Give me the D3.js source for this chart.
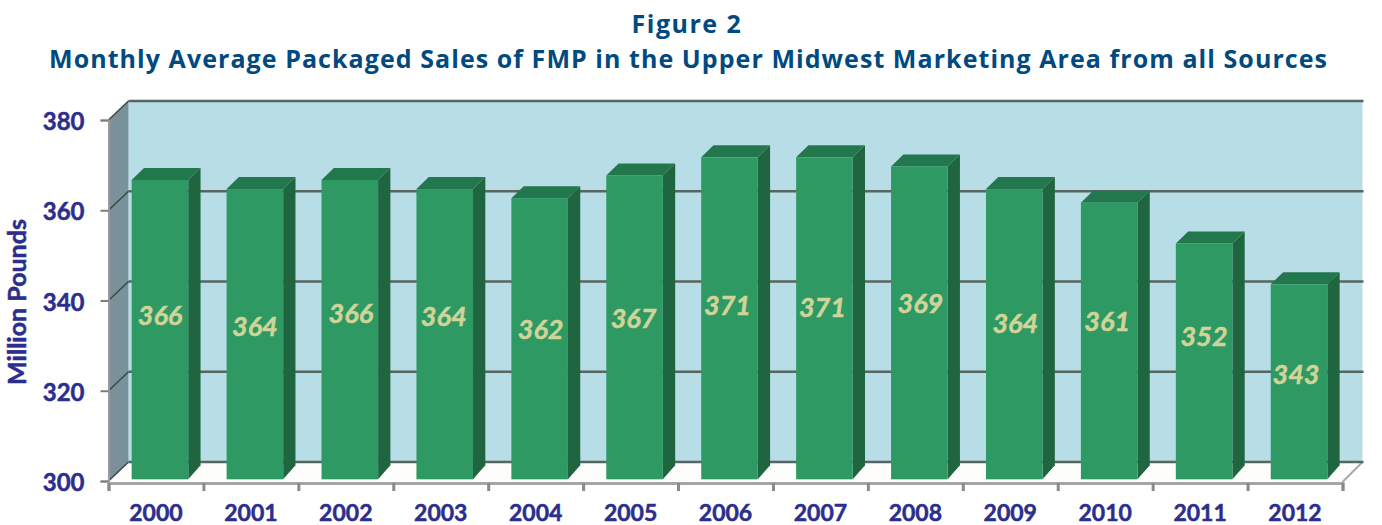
<!DOCTYPE html>
<html>
<head>
<meta charset="utf-8">
<script src="https://cdn.jsdelivr.net/npm/d3@7"></script>
<style>
  html, body { margin: 0; padding: 0; background: #fff; overflow: hidden; }
  svg { display: block; }
</style>
</head>
<body>
<div class="chart"></div>
<script>
// values
const years = ["2000", "2001", "2002", "2003", "2004", "2005", "2006", "2007", "2008", "2009", "2010", "2011", "2012"];
const sales = [366, 364, 366, 364, 362, 367, 371, 371, 369, 364, 361, 352, 343];
const yTicks = [300, 320, 340, 360, 380];
const titleLines = ["Figure 2", "Monthly Average Packaged Sales of FMP in the Upper Midwest Marketing Area from all Sources"];
const yLabel = "Million Pounds";

// the data labels were hand placed in the original, nudges from the middle of each bar
const labelLift = [14, 8, 16, 18, 9, 9, 13, 11, 20, 11, 20, 25, 8];
const labelShift = [0, 0, 1, -1, 1, -1, -2, -2, 1, 1, -2, 0, -3];

const svgWidth = 1382;
const svgHeight = 525;
const wallDx = 20, wallDy = -19;
const barDx = 12.3, barDy = -12;

const svg = d3.select(".chart").append("svg")
  .attr("width", svgWidth)
  .attr("height", svgHeight);

// scales, front plane of the box
const xBand = d3.scaleBand().domain(years).range([108.5, 1342.5]).paddingInner(0.404).paddingOuter(0.202);
const xTickScale = d3.scaleLinear().domain([0, years.length]).range([108.5, 1342.5]);
const yScale = d3.scaleLinear().domain([300, 380]).range([481, 120]);
// bars stand a little further in than the front plane
const yBar = d3.scaleLinear().domain([300, 380]).range([479.3, 116.5]);

const defs = svg.append("defs");
const wallGrad = defs.append("linearGradient").attr("id", "leftWall")
  .attr("x1", 0).attr("x2", 1).attr("y1", 0).attr("y2", 0);
wallGrad.append("stop").attr("offset", "0%").attr("stop-color", "#7f8f98");
wallGrad.append("stop").attr("offset", "100%").attr("stop-color", "#76939c");

const x0 = xTickScale(0), x1 = xTickScale(years.length);
const yLow = yScale(300), yHigh = yScale(380);
const pts = a => a.map(p => p.join(",")).join(" ");

// back wall
svg.append("rect")
  .attr("x", x0 + wallDx).attr("y", yHigh + wallDy)
  .attr("width", x1 - x0).attr("height", yLow - yHigh)
  .attr("fill", "#b7dde6");

// left wall
svg.append("polygon")
  .attr("points", pts([[x0, yHigh], [x0 + wallDx, yHigh + wallDy], [x0 + wallDx, yLow + wallDy], [x0, yLow]]))
  .attr("fill", "url(#leftWall)");

// floor
svg.append("polygon")
  .attr("points", pts([[x0, yLow], [x0 + wallDx, yLow + wallDy], [x1 + wallDx, yLow + wallDy], [x1, yLow]]))
  .attr("fill", "#fdfdfb");
svg.append("line")
  .attr("x1", x1).attr("y1", yLow + 1).attr("x2", x1 + wallDx).attr("y2", yLow + wallDy)
  .attr("stroke", "#a8a8a8").attr("stroke-width", 2);

// gridlines on the wall and their diagonals
const grid = svg.append("g");
grid.selectAll("line.back").data(yTicks).enter().append("line")
  .attr("class", "back")
  .attr("x1", x0 + wallDx).attr("x2", x1 + wallDx + 1)
  .attr("y1", d => yScale(d) + wallDy).attr("y2", d => yScale(d) + wallDy)
  .attr("stroke", "#57665f").attr("stroke-width", 2.4);
grid.selectAll("line.diag").data(yTicks).enter().append("line")
  .attr("class", "diag")
  .attr("x1", x0).attr("x2", x0 + wallDx)
  .attr("y1", d => yScale(d)).attr("y2", d => yScale(d) + wallDy)
  .attr("stroke", "#3f4a48").attr("stroke-width", 1.6);

// bars, side then top then front
const bars = svg.append("g").selectAll("g").data(years).enter().append("g");
const barLeft = d => xBand(d) + 4;
const barTop = (d, i) => yBar(sales[i]);
const barBase = yBar(300);

bars.append("polygon")
  .attr("fill", "#1f6640")
  .attr("points", (d, i) => {
    const r = barLeft(d) + xBand.bandwidth();
    return pts([[r, barTop(d, i)], [r + barDx, barTop(d, i) + barDy], [r + barDx, barBase - 14], [r, barBase]]);
  });
bars.append("polygon")
  .attr("fill", "#23774c")
  .attr("points", (d, i) => {
    const l = barLeft(d), r = l + xBand.bandwidth();
    return pts([[l, barTop(d, i)], [l + barDx, barTop(d, i) + barDy], [r + barDx, barTop(d, i) + barDy], [r, barTop(d, i)]]);
  });
bars.append("rect")
  .attr("fill", "#2e9963")
  .attr("x", barLeft)
  .attr("y", barTop)
  .attr("width", xBand.bandwidth())
  .attr("height", (d, i) => barBase - barTop(d, i));

// data labels
bars.append("text")
  .attr("x", (d, i) => barLeft(d) + xBand.bandwidth() / 2 + labelShift[i])
  .attr("y", (d, i) => (barTop(d, i) + barBase) / 2 - labelLift[i])
  .attr("dy", "0.36em")
  .attr("text-anchor", "middle")
  .attr("font-family", "Lato")
  .attr("font-weight", "bold")
  .attr("font-style", "italic")
  .attr("font-size", 27)
  .attr("stroke", "#d0d498")
  .attr("stroke-width", 0.5)
  .attr("fill", "#d0d498")
  .text((d, i) => sales[i]);

// y axis
const yAxis = d3.axisLeft(yScale).tickValues(yTicks).tickSize(8).tickPadding(16).tickFormat(d3.format("d"));
const yG = svg.append("g").attr("transform", `translate(${x0},0)`).call(yAxis);
yG.select(".domain").attr("stroke", "#9a9a9a").attr("stroke-width", 2);
yG.selectAll(".tick line").attr("stroke", "#7d7d7d").attr("stroke-width", 2);
yG.selectAll(".tick text")
  .attr("dy", "0.4em")
  .attr("font-family", "Lato").attr("font-weight", "bold").attr("font-size", 24).attr("fill", "#2b2e8c")
  .attr("stroke", "#2b2e8c").attr("stroke-width", 0.5);

// x axis, ticks sit between the categories so it needs two axes
const xTicks = d3.axisBottom(xTickScale).ticks(years.length).tickSize(8).tickFormat("");
const xG = svg.append("g").attr("transform", `translate(0,${yLow + 2})`).call(xTicks);
xG.select(".domain").attr("stroke", "#a5a5a5").attr("stroke-width", 3);
xG.selectAll(".tick line").attr("stroke", "#8a8a8a").attr("stroke-width", 3);

const xLabels = d3.axisBottom(xBand).tickSize(0).tickPadding(22);
const xL = svg.append("g").attr("transform", `translate(0,${yLow + 2})`).call(xLabels);
xL.select(".domain").remove();
xL.selectAll(".tick text")
  .attr("font-family", "Lato").attr("font-weight", "bold").attr("font-size", 23).attr("fill", "#2b2e8c")
  .attr("stroke", "#2b2e8c").attr("stroke-width", 0.5);

// y axis title
svg.append("text")
  .attr("transform", "translate(26,302) rotate(-90)")
  .attr("text-anchor", "middle")
  .attr("font-family", "Lato").attr("font-weight", "bold").attr("font-size", 25)
  .attr("fill", "#2b2e8c")
  .attr("stroke", "#2b2e8c").attr("stroke-width", 0.5)
  .text(yLabel);

// title
svg.append("text")
  .attr("x", 687).attr("y", 33)
  .attr("text-anchor", "middle")
  .attr("font-family", "Open Sans").attr("font-weight", "bold").attr("font-size", 25)
  .attr("letter-spacing", 1.5)
  .attr("fill", "#004a80")
  .text(titleLines[0]);
svg.append("text")
  .attr("x", 49).attr("y", 68)
  .attr("font-family", "Open Sans").attr("font-weight", "bold").attr("font-size", 25)
  .attr("textLength", 1278)
  .attr("fill", "#004a80")
  .text(titleLines[1]);
</script>
</body>
</html>
